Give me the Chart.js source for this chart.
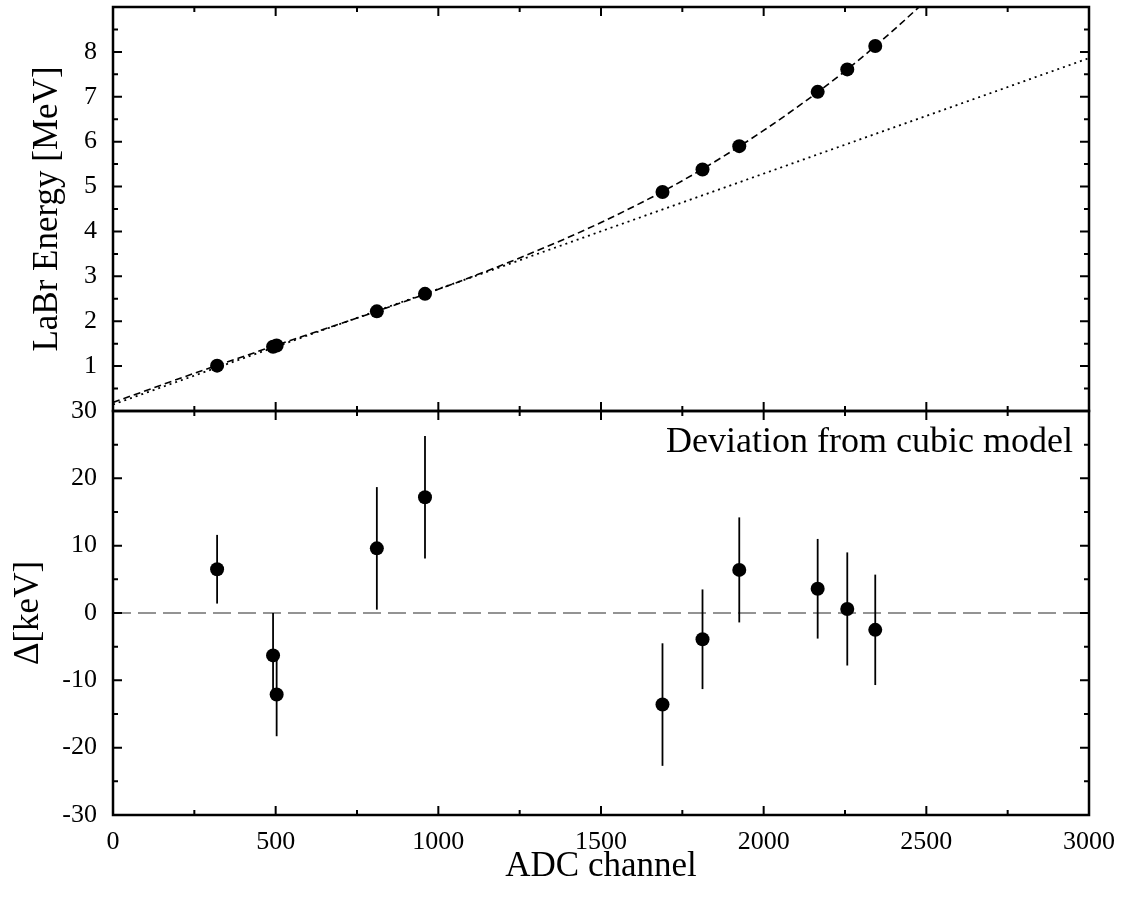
<!DOCTYPE html>
<html lang="en">
<head>
  <meta charset="UTF-8">
  <title>LaBr calibration - cubic model</title>
  <script src="https://cdn.jsdelivr.net/npm/chart.js"></script>
  <style>
    body { margin: 0; background: #fff; }
    #calib { display: block; }
  </style>
</head>
<body>
  <canvas id="calib" width="1124" height="900"></canvas>

  <script>
    // Calibration peaks (ADC channel -> energy in MeV)
    const channels = [320, 492, 503, 811, 959, 1689, 1812, 1925, 2166, 2257, 2343];
    const energies = [1.01, 1.43, 1.46, 2.22, 2.61, 4.88, 5.38, 5.90, 7.11, 7.61, 8.13];

    // Residuals from the cubic model, keV
    const deviations = [6.5, -6.3, -12.1, 9.6, 17.2, -13.6, -3.9, 6.4, 3.6, 0.6, -2.5];
    const devErrors = [5.1, 6.3, 6.2, 9.1, 9.1, 9.1, 7.4, 7.8, 7.4, 8.4, 8.2];

    // Cubic fit curve
    const cubicX = [0, 250, 500, 750, 1000, 1250, 1500, 1750, 2000, 2250, 2400, 2500];
    const cubicE = [0.19, 0.84, 1.46, 2.07, 2.71, 3.41, 4.20, 5.13, 6.25, 7.57, 8.49, 9.15];

    // Linear model (dotted)
    const linearX = [0, 3000];
    const linearE = [0.145, 7.86];

    // Zero reference in the residual panel
    const zeroX = [0, 3000];
    const zeroY = [0, 0];

    const xTickLabels = ['0', '500', '1000', '1500', '2000', '2500', '3000'];

    const FONT = "'Liberation Serif', 'DejaVu Serif', serif";
    Chart.defaults.font.family = FONT;
    Chart.defaults.color = '#000';

    const toPoints = (xs, ys) => xs.map((x, i) => ({ x: x, y: ys[i] }));

    // error bars for the residual dataset, drawn just before its points
    const errorBars = {
      id: 'errorBars',
      beforeDatasetDraw(chart, args) {
        if (args.index !== 1) return;
        const ctx = chart.ctx, x = chart.scales.x, y = chart.scales.yBot;
        ctx.save();
        ctx.strokeStyle = '#000';
        ctx.lineWidth = 1.8;
        channels.forEach((c, i) => {
          const px = x.getPixelForValue(c);
          ctx.beginPath();
          ctx.moveTo(px, y.getPixelForValue(deviations[i] - devErrors[i]));
          ctx.lineTo(px, y.getPixelForValue(deviations[i] + devErrors[i]));
          ctx.stroke();
        });
        ctx.restore();
      }
    };

    // frames with inward major/minor ticks on all sides, plus panel label
    const frameTicks = {
      id: 'frameTicks',
      afterDraw(chart) {
        const ctx = chart.ctx, x = chart.scales.x;
        const left = chart.chartArea.left, right = chart.chartArea.right;
        ctx.save();
        ctx.strokeStyle = '#000';

        const panel = (ys, minor, major) => {
          const top = ys.top, bottom = ys.bottom;
          ctx.lineWidth = 2;
          for (let v = ys.min; v <= ys.max + 1e-9; v += minor) {
            const p = ys.getPixelForValue(v);
            const len = Math.abs(v / major - Math.round(v / major)) < 1e-6 ? 9 : 5;
            ctx.beginPath();
            ctx.moveTo(left, p); ctx.lineTo(left + len, p);
            ctx.moveTo(right, p); ctx.lineTo(right - len, p);
            ctx.stroke();
          }
          for (let v = x.min; v <= x.max; v += 250) {
            const p = x.getPixelForValue(v);
            const len = v % 500 === 0 ? 9 : 5;
            ctx.beginPath();
            ctx.moveTo(p, top); ctx.lineTo(p, top + len);
            ctx.moveTo(p, bottom); ctx.lineTo(p, bottom - len);
            ctx.stroke();
          }
          ctx.lineWidth = 2.5;
          ctx.strokeRect(left, top, right - left, bottom - top);
        };
        panel(chart.scales.yTop, 0.5, 1);
        panel(chart.scales.yBot, 5, 10);

        ctx.fillStyle = '#000';
        ctx.font = '36px ' + FONT;
        ctx.textAlign = 'right';
        ctx.textBaseline = 'alphabetic';
        ctx.fillText('Deviation from cubic model', right - 16, chart.scales.yBot.top + 41);
        ctx.restore();
      }
    };

    // fixed axis box sizes so the plot frame lands where the original one is
    const fixWidth = scale => {
      scale.width = 113;
      scale.paddingTop = 0;
      scale.paddingBottom = 0;
    };

    new Chart(document.getElementById('calib'), {
      type: 'scatter',
      data: {
        datasets: [
          {
            label: 'Calibration peaks',
            data: toPoints(channels, energies),
            yAxisID: 'yTop',
            backgroundColor: '#000',
            borderWidth: 0,
            pointRadius: 7
          },
          {
            label: 'Deviation',
            data: toPoints(channels, deviations),
            yAxisID: 'yBot',
            backgroundColor: '#000',
            borderWidth: 0,
            pointRadius: 7
          },
          {
            label: 'Cubic model',
            type: 'line',
            data: toPoints(cubicX, cubicE),
            yAxisID: 'yTop',
            borderColor: '#000',
            borderWidth: 1.6,
            borderDash: [7, 4],
            cubicInterpolationMode: 'monotone',
            pointRadius: 0,
            fill: false
          },
          {
            label: 'Linear model',
            type: 'line',
            data: toPoints(linearX, linearE),
            yAxisID: 'yTop',
            borderColor: '#000',
            borderWidth: 1.8,
            borderDash: [2, 4],
            pointRadius: 0,
            fill: false
          },
          {
            label: 'Zero',
            type: 'line',
            data: toPoints(zeroX, zeroY),
            yAxisID: 'yBot',
            borderColor: '#707070',
            borderWidth: 1.4,
            borderDash: [18, 7],
            pointRadius: 0,
            fill: false
          }
        ]
      },
      options: {
        responsive: false,
        animation: false,
        layout: { padding: { top: 6, right: 35, left: 0, bottom: 0 } },
        plugins: { legend: { display: false }, tooltip: { enabled: false } },
        scales: {
          x: {
            type: 'linear',
            min: 0,
            max: 3000,
            grid: { display: false, drawTicks: false },
            border: { display: false },
            afterFit: scale => {
              scale.height = 85;
              scale.paddingLeft = 0;
              scale.paddingRight = 0;
            },
            afterBuildTicks: scale => {
              scale.ticks = xTickLabels.map(t => ({ value: Number(t) }));
            },
            ticks: {
              font: { size: 26 },
              padding: 12,
              maxRotation: 0,
              autoSkip: false,
              callback: v => String(v)
            },
            title: { display: true, text: 'ADC channel', font: { size: 35, lineHeight: 1 }, padding: { bottom: 16 } }
          },
          yBot: {
            type: 'linear',
            position: 'left',
            stack: 'panels',
            stackWeight: 1,
            min: -30,
            max: 30,
            grid: { display: false, drawTicks: false },
            border: { display: false },
            afterFit: fixWidth,
            ticks: { stepSize: 10, font: { size: 26 }, padding: 16, autoSkip: false },
            title: { display: true, text: 'Δ[keV]', font: { size: 35, lineHeight: 1 }, padding: { top: 11 } }
          },
          yTop: {
            type: 'linear',
            position: 'left',
            stack: 'panels',
            stackWeight: 1,
            min: 0,
            max: 9,
            grid: { display: false, drawTicks: false },
            border: { display: false },
            afterFit: fixWidth,
            ticks: {
              stepSize: 1,
              font: { size: 26 },
              padding: 16,
              autoSkip: false,
              callback: v => (v === 0 || v === 9 ? null : v)
            },
            title: { display: true, text: 'LaBr Energy [MeV]', font: { size: 35, lineHeight: 1 }, padding: { top: 30 } }
          }
        }
      },
      plugins: [errorBars, frameTicks]
    });
  </script>
</body>
</html>
